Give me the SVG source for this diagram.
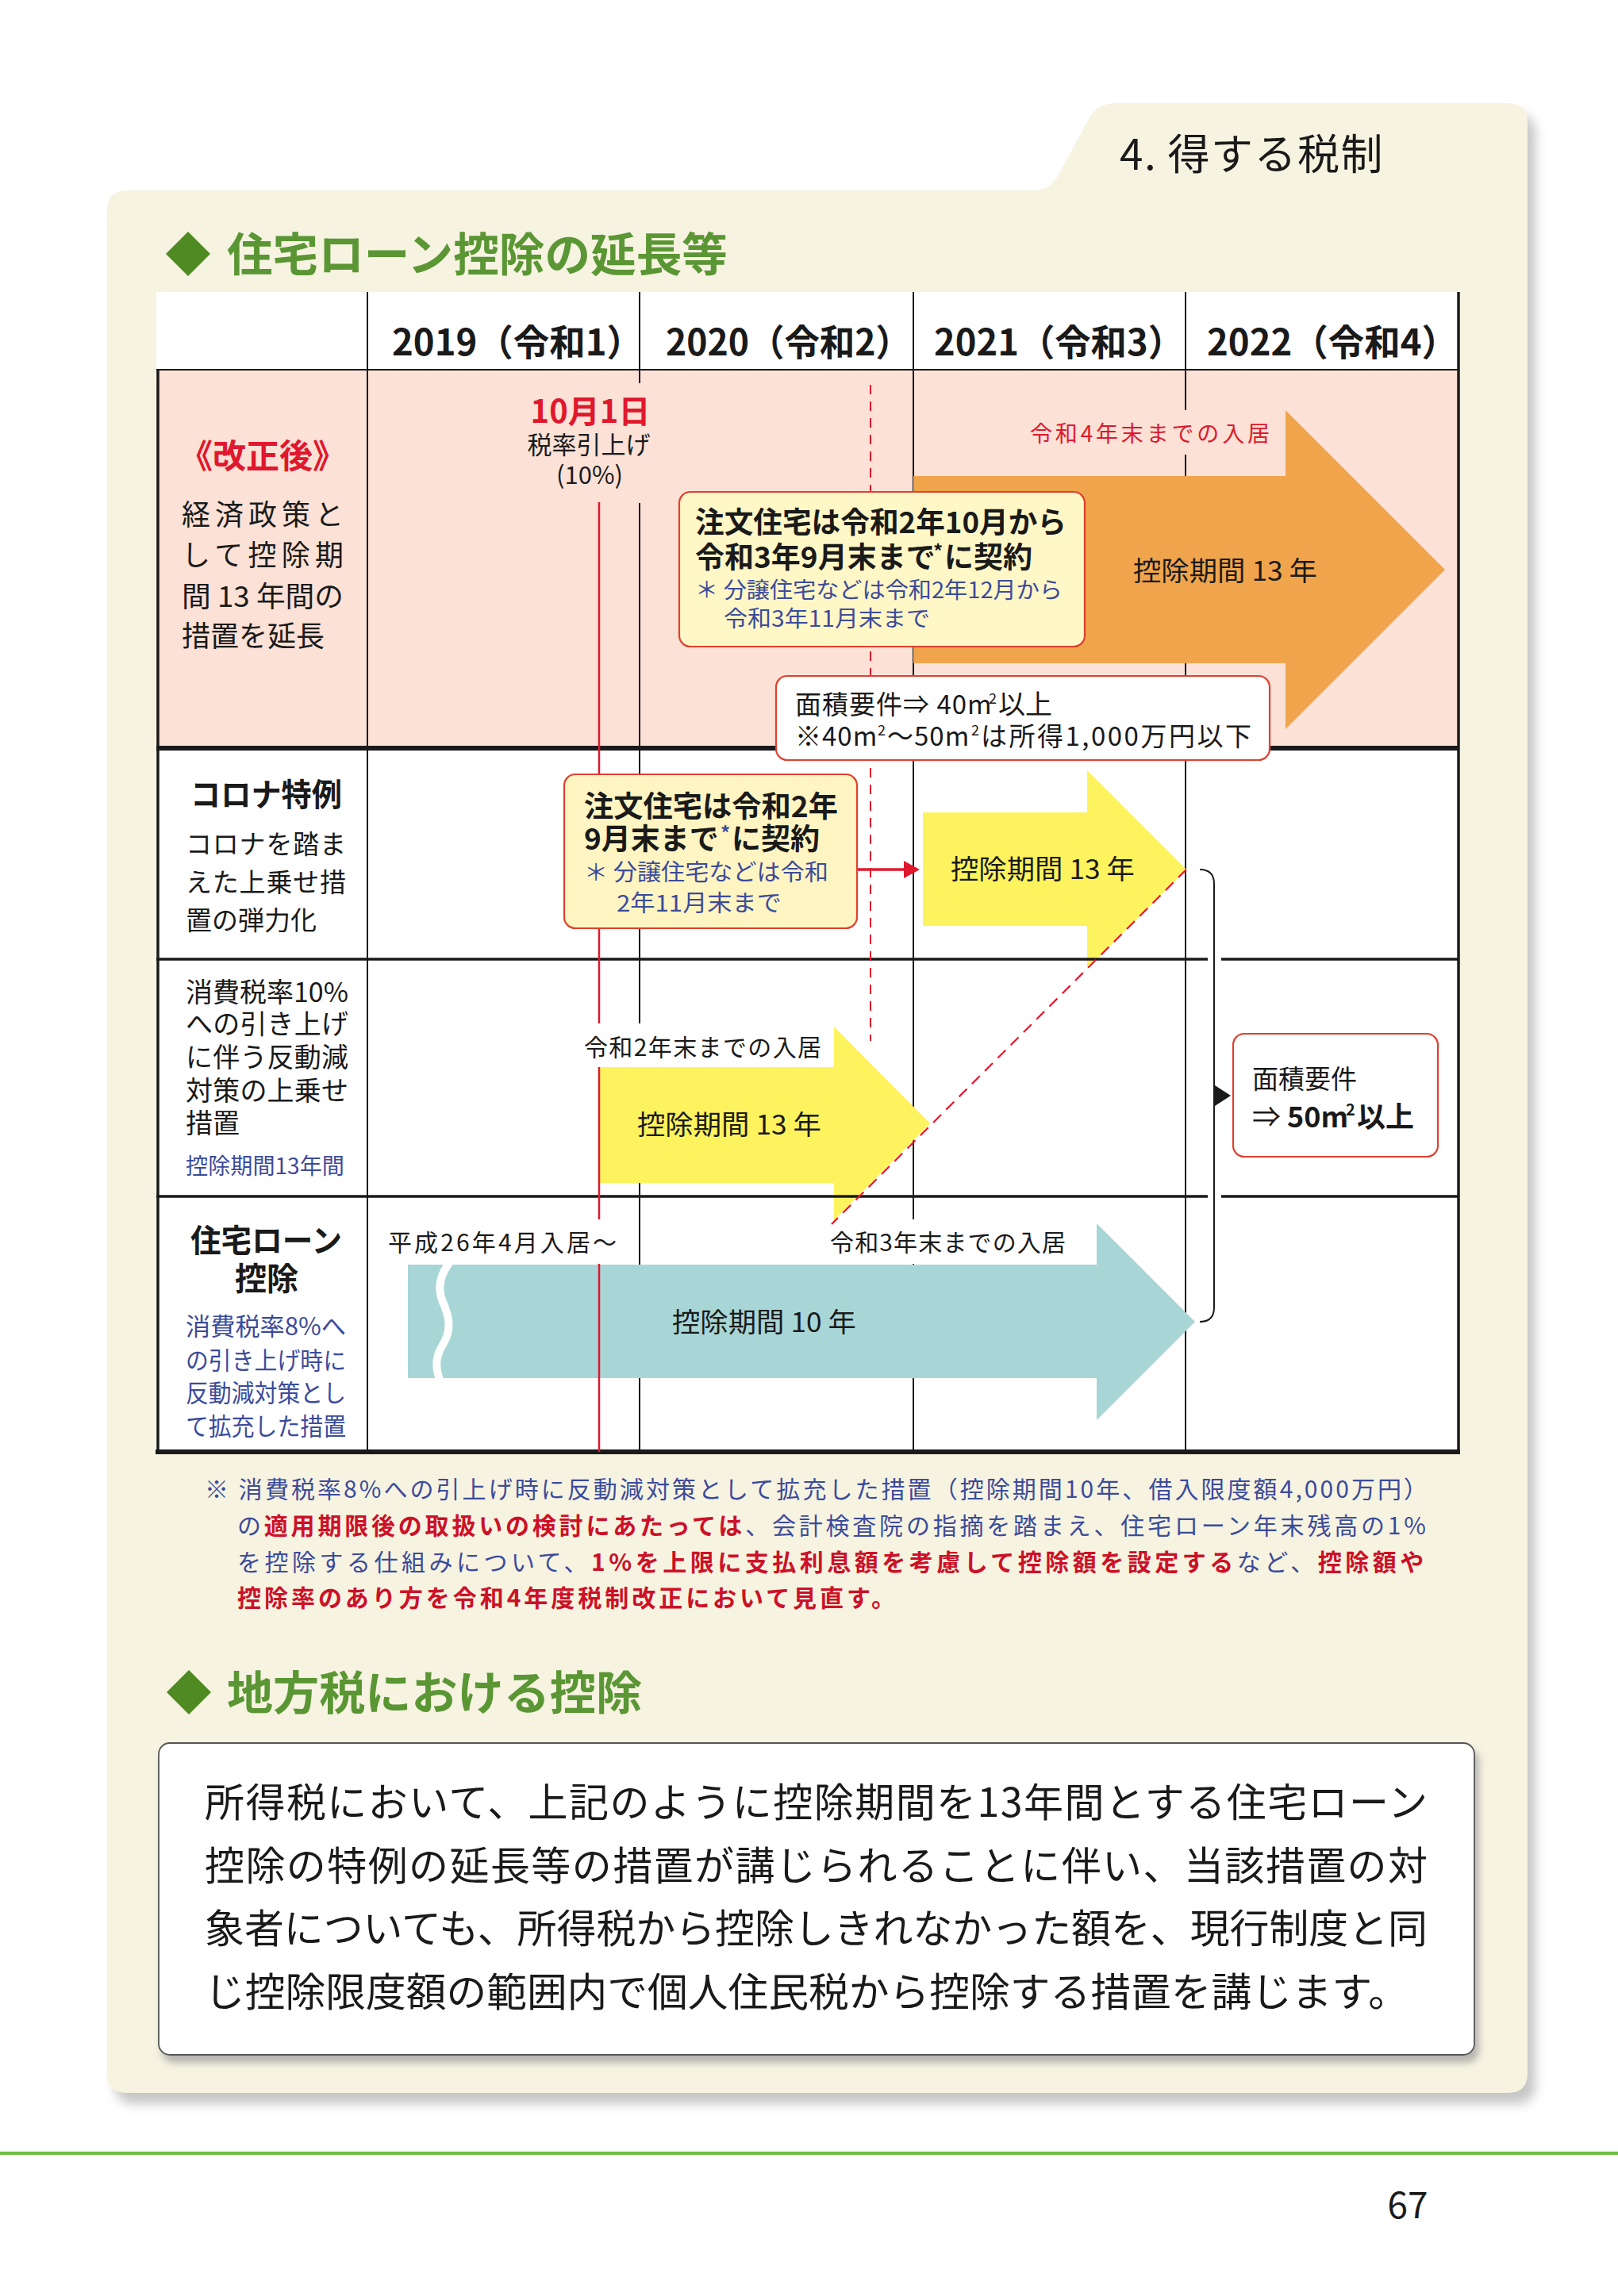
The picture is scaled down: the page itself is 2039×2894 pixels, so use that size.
<svg xmlns="http://www.w3.org/2000/svg" width="2039" height="2894" viewBox="0 0 2039 2894">
<defs>
<style>
text{font-family:"Noto Sans CJK JP","Noto Sans",sans-serif;fill:#1a1a1a}
.b{font-weight:700}
.red{fill:#e0182d}
.dred{fill:#cc1128}
.blue{fill:#3c4b9b}
.grid{stroke:#1a1a1a;stroke-width:2;fill:none}
.rowl{stroke:#1a1a1a;stroke-width:3.5;fill:none}
.thick{stroke:#1a1a1a;stroke-width:6;fill:none}
.box{stroke:#e0402f;stroke-width:2.2}
.hd{fill:#5b9634;font-weight:700}
</style>
<filter id="sh" x="-5%" y="-5%" width="110%" height="110%">
<feDropShadow dx="10" dy="14" stdDeviation="7" flood-color="#b8b8b8" flood-opacity="0.8"/>
</filter>
<filter id="sh2" x="-5%" y="-5%" width="110%" height="120%">
<feDropShadow dx="5" dy="9" stdDeviation="5" flood-color="#999" flood-opacity="0.7"/>
</filter>
</defs>
<rect width="2039" height="2894" fill="#ffffff"/>

<g id="panel">
<path filter="url(#sh)" fill="#f6f3e1" d="M160 240 L1300 240 C1318 240 1326 234 1334 220 L1372 150 C1380 136 1390 130 1410 130 L1900 130 Q1925 130 1925 155 L1925 2613 Q1925 2638 1900 2638 L160 2638 Q135 2638 135 2613 L135 265 Q135 240 160 240 Z"/>
<text x="1411" y="214" font-size="53" fill="#7e8c3a" letter-spacing="1.5">4. 得する税制</text>
</g>

<g id="heading1">
<polygon points="237,292 265,320 237,348 209,320" fill="#4f8a22"/>
<text class="hd" x="286" y="342" font-size="58" textLength="631" lengthAdjust="spacingAndGlyphs">住宅ローン控除の延長等</text>
</g>

<g id="table-bg">
<rect x="197" y="368" width="1641" height="98" fill="#ffffff"/>
<rect x="197" y="466" width="1641" height="477" fill="#fbe1d6"/>
<rect x="197" y="943" width="1641" height="887" fill="#ffffff"/>
</g>

<g id="col-lines" class="grid">
<line x1="463" y1="368" x2="463" y2="1830"/>
<line x1="806" y1="368" x2="806" y2="1830"/>
<line x1="1151" y1="368" x2="1151" y2="1830"/>
<line x1="1494" y1="368" x2="1494" y2="1830"/>
</g>

<g id="arrow-orange">
<polygon points="1151,600 1620,600 1620,517 1821,718 1620,919 1620,836 1151,836" fill="#f0a54c"/>
<text x="1428" y="732" font-size="34" textLength="232" lengthAdjust="spacingAndGlyphs">控除期間 13 年</text>
</g>
<g id="arrow-yellow-corona">
<polygon points="1163,1024 1370,1024 1370,971 1495,1096 1370,1221 1370,1167 1163,1167" fill="#fdf35e"/>
<text x="1198" y="1108" font-size="34" textLength="232" lengthAdjust="spacingAndGlyphs">控除期間 13 年</text>
</g>
<g id="arrow-yellow-10">
<polygon points="755,1345 1051,1345 1051,1294 1172,1416 1051,1538 1051,1491 755,1491" fill="#fdf35e"/>
<text x="803" y="1430" font-size="34" textLength="232" lengthAdjust="spacingAndGlyphs">控除期間 13 年</text>
</g>
<g id="arrow-teal">
<polygon points="514,1594 1382,1594 1382,1542 1506,1666 1382,1790 1382,1737 514,1737" fill="#a8d6d6"/>
<path d="M569 1588 C555 1605 550 1622 558 1641 C567 1661 569 1677 558 1695 C548 1711 548 1725 556 1744" stroke="#ffffff" stroke-width="10" fill="none"/>
<text x="847" y="1679" font-size="34" textLength="232" lengthAdjust="spacingAndGlyphs">控除期間 10 年</text>
</g>

<g id="row-lines">
<line class="grid" x1="197" y1="466" x2="1838" y2="466" stroke-width="2.5"/>
<line class="thick" x1="197" y1="943" x2="1838" y2="943"/>
<line class="rowl" x1="197" y1="1209" x2="1522" y2="1209"/>
<line class="rowl" x1="1539" y1="1209" x2="1838" y2="1209"/>
<line class="rowl" x1="197" y1="1508" x2="1522" y2="1508"/>
<line class="rowl" x1="1539" y1="1508" x2="1838" y2="1508"/>
<line class="thick" x1="196" y1="1830" x2="1840" y2="1830" stroke-width="5"/>
<line class="rowl" x1="199" y1="466" x2="199" y2="1830"/>
<line class="rowl" x1="1838" y1="368" x2="1838" y2="1830" stroke-width="4"/>
</g>

<g id="connectors">
<line x1="755" y1="633" x2="755" y2="1830" stroke="#e0182d" stroke-width="2.5"/>
<line x1="1097" y1="485" x2="1097" y2="1312" stroke="#e0182d" stroke-width="2" stroke-dasharray="12 9"/>
<line x1="1495" y1="1096" x2="1048" y2="1543" stroke="#e0182d" stroke-width="2.2" stroke-dasharray="14 9"/>
<line x1="1081" y1="1096" x2="1142" y2="1096" stroke="#e0182d" stroke-width="3.5"/>
<polygon points="1139,1085 1159,1096 1139,1107" fill="#e0182d"/>
<path d="M1512 1096 Q1530 1096 1530 1114 L1530 1648 Q1530 1666 1512 1666" stroke="#1a1a1a" stroke-width="2" fill="none"/>
<polygon points="1531,1368 1551,1381 1531,1394" fill="#1a1a1a"/>
</g>

<g id="label-bgs">
<rect x="795" y="483" width="22" height="151" fill="#fbe1d6"/>
<rect x="1484" y="517" width="22" height="56" fill="#fbe1d6"/>
<rect x="740" y="1290" width="300" height="55" fill="#ffffff"/>
<rect x="742" y="1537" width="26" height="56" fill="#ffffff"/>
<rect x="1100" y="1537" width="250" height="56" fill="#ffffff"/>
</g>

<g id="header">
<text class="b" x="494" y="448" font-size="46" textLength="316" lengthAdjust="spacingAndGlyphs">2019（令和1）</text>
<text class="b" x="839" y="448" font-size="46" textLength="309" lengthAdjust="spacingAndGlyphs">2020（令和2）</text>
<text class="b" x="1177" y="448" font-size="46" textLength="315" lengthAdjust="spacingAndGlyphs">2021（令和3）</text>
<text class="b" x="1521" y="448" font-size="46" textLength="316" lengthAdjust="spacingAndGlyphs">2022（令和4）</text>
</g>

<g id="row-kaisei">
<text class="b red" x="226" y="590" font-size="42">《改正後》</text>
<text x="229" y="662" font-size="36" textLength="204" lengthAdjust="spacing">経済政策と</text>
<text x="229" y="713" font-size="36" textLength="204" lengthAdjust="spacing">して控除期</text>
<text x="229" y="765" font-size="36" textLength="204" lengthAdjust="spacingAndGlyphs">間 13 年間の</text>
<text x="229" y="815" font-size="36">措置を延長</text>
</g>

<g id="tax-raise">
<text class="b red" x="744" y="533" font-size="40" text-anchor="middle">10月1日</text>
<text x="742" y="572" font-size="31" text-anchor="middle">税率引上げ</text>
<text x="743" y="610" font-size="31" text-anchor="middle">(10%)</text>
</g>

<g id="label-r4">
<text class="red" x="1298" y="557" font-size="28" textLength="302" lengthAdjust="spacing">令和4年末までの入居</text>
</g>

<g id="box-chumon1">
<rect class="box" x="856" y="620" width="511" height="195" rx="14" fill="#fff7c6"/>
<text class="b" x="876" y="672" font-size="37" textLength="468" lengthAdjust="spacingAndGlyphs">注文住宅は令和2年10月から</text>
<text class="b" x="876" y="716" font-size="37">令和3年9月末まで</text>
<text class="b" x="1176" y="704" font-size="24">*</text>
<text class="b" x="1190" y="716" font-size="37">に契約</text>
<text class="blue" x="876" y="754" font-size="28" textLength="463" lengthAdjust="spacingAndGlyphs">＊ 分譲住宅などは令和2年12月から</text>
<text class="blue" x="912" y="790" font-size="28" textLength="260" lengthAdjust="spacingAndGlyphs">令和3年11月末まで</text>
</g>

<g id="box-area40">
<rect class="box" x="978" y="852" width="622" height="106" rx="14" fill="#ffffff"/>
<text x="1002" y="900" font-size="33" letter-spacing="1">面積要件⇒ 40m</text>
<text x="1246" y="887" font-size="18">2</text>
<text x="1258" y="900" font-size="34">以上</text>
<text x="1002" y="940" font-size="33" letter-spacing="1">※40m</text>
<text x="1106" y="927" font-size="18">2</text>
<text x="1118" y="940" font-size="33" letter-spacing="1">〜50m</text>
<text x="1224" y="927" font-size="18">2</text>
<text x="1236" y="940" font-size="33" letter-spacing="2.5">は所得1,000万円以下</text>
</g>

<g id="row-corona">
<text class="b" x="240" y="1016" font-size="40" textLength="191" lengthAdjust="spacingAndGlyphs">コロナ特例</text>
<text x="234" y="1076" font-size="33" textLength="202" lengthAdjust="spacing">コロナを踏ま</text>
<text x="234" y="1124" font-size="33" textLength="202" lengthAdjust="spacing">えた上乗せ措</text>
<text x="234" y="1172" font-size="33">置の弾力化</text>
</g>

<g id="box-chumon2">
<rect class="box" x="711" y="976" width="369" height="194" rx="14" fill="#fff5c2"/>
<text class="b" x="736" y="1030" font-size="37" textLength="320" lengthAdjust="spacingAndGlyphs">注文住宅は令和2年</text>
<text class="b" x="736" y="1071" font-size="37">9月末まで</text>
<text class="b blue" x="908" y="1059" font-size="24">*</text>
<text class="b" x="922" y="1071" font-size="37">に契約</text>
<text class="blue" x="736" y="1110" font-size="29" textLength="308" lengthAdjust="spacingAndGlyphs">＊ 分譲住宅などは令和</text>
<text class="blue" x="777" y="1149" font-size="29" textLength="208" lengthAdjust="spacingAndGlyphs">2年11月末まで</text>
</g>

<g id="row-shohizei">
<text x="234" y="1263" font-size="34" textLength="205" lengthAdjust="spacingAndGlyphs">消費税率10%</text>
<text x="234" y="1303" font-size="34" textLength="205" lengthAdjust="spacing">への引き上げ</text>
<text x="234" y="1345" font-size="34" textLength="205" lengthAdjust="spacing">に伴う反動減</text>
<text x="234" y="1387" font-size="34" textLength="205" lengthAdjust="spacing">対策の上乗せ</text>
<text x="234" y="1428" font-size="34">措置</text>
<text class="blue" x="234" y="1480" font-size="28" textLength="200" lengthAdjust="spacingAndGlyphs">控除期間13年間</text>
<text x="736" y="1331" font-size="30" textLength="299" lengthAdjust="spacing">令和2年末までの入居</text>
</g>

<g id="box-area50">
<rect class="box" x="1554" y="1303" width="258" height="155" rx="14" fill="#ffffff"/>
<text x="1578" y="1372" font-size="33">面積要件</text>
<text x="1578" y="1421" font-size="36">⇒</text>
<text class="b" x="1622" y="1421" font-size="36">50m</text>
<text class="b" x="1696" y="1406" font-size="20">2</text>
<text class="b" x="1710" y="1421" font-size="36">以上</text>
</g>

<g id="row-loan">
<text class="b" x="240" y="1578" font-size="40" textLength="191" lengthAdjust="spacingAndGlyphs">住宅ローン</text>
<text class="b" x="296" y="1626" font-size="40">控除</text>
<text class="blue" x="234" y="1683" font-size="31" textLength="202" lengthAdjust="spacingAndGlyphs">消費税率8%へ</text>
<text class="blue" x="234" y="1726" font-size="31" textLength="202" lengthAdjust="spacingAndGlyphs">の引き上げ時に</text>
<text class="blue" x="234" y="1767" font-size="31" textLength="202" lengthAdjust="spacingAndGlyphs">反動減対策とし</text>
<text class="blue" x="234" y="1809" font-size="31" textLength="202" lengthAdjust="spacingAndGlyphs">て拡充した措置</text>
<text x="489" y="1577" font-size="30" textLength="288" lengthAdjust="spacing">平成26年4月入居〜</text>
<text x="1046" y="1577" font-size="30" textLength="297" lengthAdjust="spacing">令和3年末までの入居</text>
</g>

<g id="footnote" font-size="30">
<text class="blue" x="258" y="1888" textLength="1541" lengthAdjust="spacing">※ 消費税率8%への引上げ時に反動減対策として拡充した措置（控除期間10年、借入限度額4,000万円）</text>
<text class="blue" x="299" y="1934" letter-spacing="3.8">の<tspan class="b dred">適用期限後の取扱いの検討にあたっては</tspan>、会計検査院の指摘を踏まえ、住宅ローン年末残高の1%</text>
<text class="blue" x="299" y="1980" letter-spacing="4.5">を控除する仕組みについて、<tspan class="b dred">1%を上限に支払利息額を考慮して控除額を設定する</tspan>など、<tspan class="b dred">控除額や</tspan></text>
<text class="b dred" x="299" y="2025" textLength="829" lengthAdjust="spacing">控除率のあり方を令和4年度税制改正において見直す。</text>
</g>

<g id="heading2">
<polygon points="238,2105 266,2133 238,2161 210,2133" fill="#4f8a22"/>
<text class="hd" x="286" y="2155" font-size="58" textLength="523" lengthAdjust="spacingAndGlyphs">地方税における控除</text>
</g>

<g id="local-tax-box">
<rect x="200" y="2197" width="1658" height="393" rx="14" fill="#ffffff" stroke="#555" stroke-width="1.8" filter="url(#sh2)"/>
<text x="258" y="2290" font-size="50" textLength="1541" lengthAdjust="spacing">所得税において、上記のように控除期間を13年間とする住宅ローン</text>
<text x="258" y="2370" font-size="50" textLength="1541" lengthAdjust="spacing">控除の特例の延長等の措置が講じられることに伴い、当該措置の対</text>
<text x="258" y="2449" font-size="50" textLength="1541" lengthAdjust="spacingAndGlyphs">象者についても、所得税から控除しきれなかった額を、現行制度と同</text>
<text x="258" y="2529" font-size="50" textLength="1517" lengthAdjust="spacingAndGlyphs">じ控除限度額の範囲内で個人住民税から控除する措置を講じます。</text>
</g>

<g id="footer">
<rect x="0" y="2712" width="2039" height="4" fill="#6cbf3f"/>
<text x="1774" y="2796" font-size="46" text-anchor="middle" font-family="Noto Sans, sans-serif">67</text>
</g>
</svg>
